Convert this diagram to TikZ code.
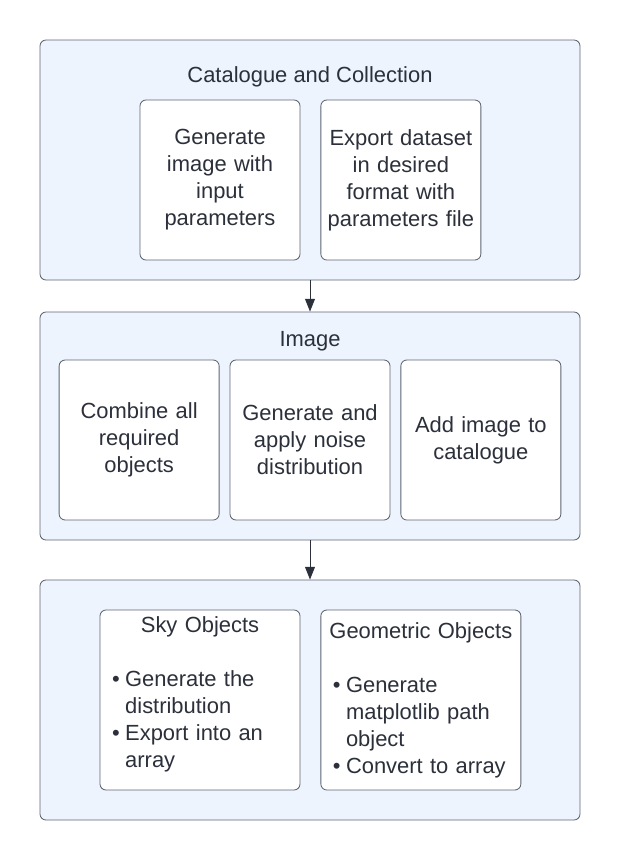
\documentclass[tikz,border=0pt]{standalone}
\usepackage{fontspec}
\setmainfont{Liberation Sans}
\usetikzlibrary{positioning, arrows.meta}
\definecolor{groupfill}{HTML}{EEF4FE}
\definecolor{boxline}{HTML}{5F6672}
\definecolor{labeltext}{HTML}{2B303A}
\newcommand{\chartfont}{\fontsize{15.6pt}{19.2pt}\selectfont\hyphenpenalty=10000\exhyphenpenalty=10000}
\newcommand{\bitem}[1]{\par\hangindent=0.33cm\hangafter=1\noindent\makebox[0.33cm][l]{\textbullet}#1}
\tikzstyle{groupbox} = [rectangle, rounded corners=0.15cm, minimum width=13.5cm, minimum height=6cm, draw=boxline, fill=groupfill, line width=0.6pt]
\tikzstyle{grouptitle} = [text=labeltext, font=\chartfont, inner sep=0pt]
\tikzstyle{stepbox} = [rectangle, rounded corners=0.15cm, minimum width=4cm, minimum height=4cm, inner sep=0.1cm, text width=3.75cm, align=center, draw=boxline, fill=white, text=labeltext, font=\chartfont, line width=0.6pt]
\tikzstyle{listbox} = [rectangle, rounded corners=0.15cm, minimum width=5cm, minimum height=4.5cm, inner xsep=0.3cm, text width=4.4cm, align=left, draw=boxline, fill=white, text=labeltext, font=\chartfont, line width=0.6pt]
\tikzstyle{arrow} = [line width=0.7pt, draw=labeltext, -{Triangle[width=7pt,length=9pt]}]

\begin{document}
\begin{tikzpicture}
\useasboundingbox (0,0) rectangle (15.5,-21.5);
\node (cat) [groupbox] at (7.75,-4) {};
\node (cattitle) [grouptitle] at (7.75,-1.925) {Catalogue and Collection};
\node (gen) [stepbox] at (5.5,-4.5) {Generate\\image with\\input\\parameters};
\node (export) [stepbox, right=0.5cm of gen] {Export dataset\\in desired\\format with\\parameters file};

\node (img) [groupbox, minimum height=5.7cm] at (7.75,-10.65) {};
\node (imgtitle) [grouptitle] at (7.75,-8.525) {Image};
\node (noise) [stepbox] at (7.75,-11) {Generate and\\apply noise\\distribution};
\node (combine) [stepbox, left=0.25cm of noise] {Combine all\\required\\objects};
\node (add) [stepbox, right=0.25cm of noise] {Add image to\\catalogue};

\node (obj) [groupbox] at (7.75,-17.5) {};
\node (sky) [listbox] at (5,-17.5) {\centerline{Sky Objects}\par\vskip\baselineskip
  \bitem{Generate the\newline distribution}\bitem{Export into an\newline array}\par\nointerlineskip\vbox to 0.3cm{}};
\node (geo) [listbox, right=0.5cm of sky] {\centerline{Geometric Objects}\par\vskip\baselineskip
  \bitem{Generate\newline matplotlib path\newline object}\bitem{Convert to array}};

\draw [arrow] (cat) -- (img);
\draw [arrow] (img) -- (obj);

\end{tikzpicture}
\end{document}
